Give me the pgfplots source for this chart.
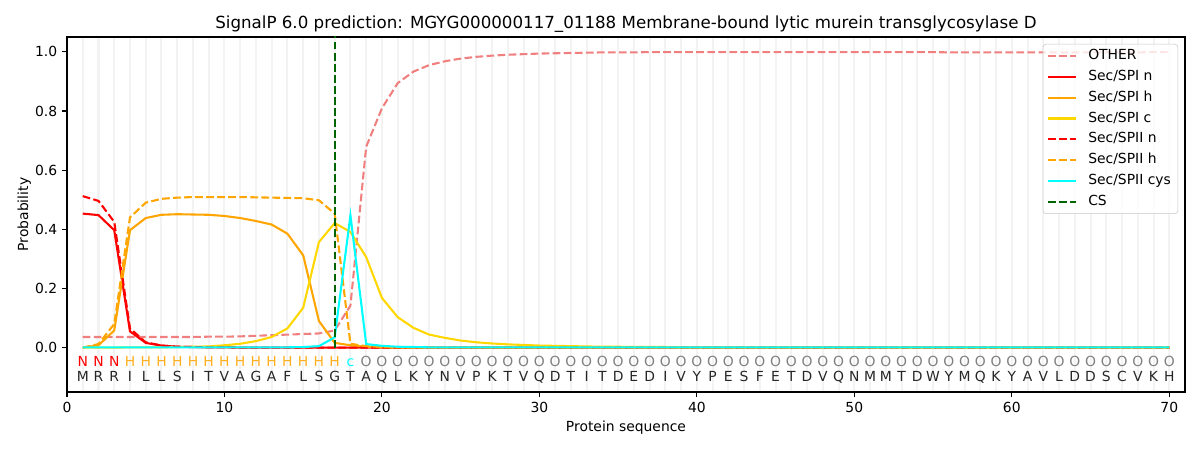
\documentclass[border=0pt]{standalone}
\usepackage{fontspec}
\setmainfont{DejaVu Sans}
\usepackage{pgfplots}
\usepackage{pgfplotstable}
\pgfplotsset{compat=1.18}
\definecolor{lightcoral}{HTML}{F08080}
\definecolor{mplorange}{HTML}{FFA500}
\definecolor{mplgold}{HTML}{FFD700}
\definecolor{darkgreen}{HTML}{006400}
\definecolor{mplcyan}{HTML}{00FFFF}
\definecolor{hlab}{HTML}{FFAE1F}
\definecolor{olab}{HTML}{808080}
\definecolor{gridc}{HTML}{F3F3F3}

\pgfplotstableread{
x other spin spih spic spiin spiih cys
1 0.036 0.453 0.000 0.000 0.512 0.000 0.001
2 0.036 0.448 0.008 0.000 0.496 0.012 0.001
3 0.036 0.397 0.058 0.000 0.425 0.080 0.001
4 0.036 0.055 0.397 0.001 0.065 0.440 0.001
5 0.036 0.016 0.438 0.001 0.018 0.490 0.001
6 0.036 0.007 0.449 0.001 0.007 0.503 0.001
7 0.036 0.003 0.451 0.002 0.003 0.507 0.001
8 0.036 0.002 0.450 0.003 0.002 0.509 0.001
9 0.037 0.001 0.449 0.004 0.001 0.509 0.001
10 0.037 0.001 0.445 0.008 0.001 0.509 0.001
11 0.038 0.000 0.438 0.013 0.000 0.509 0.001
12 0.040 0.000 0.428 0.022 0.000 0.508 0.001
13 0.042 0.000 0.416 0.036 0.000 0.507 0.001
14 0.044 0.000 0.385 0.065 0.000 0.506 0.001
15 0.046 0.000 0.312 0.135 0.000 0.505 0.002
16 0.048 0.000 0.090 0.357 0.000 0.498 0.005
17 0.058 0.000 0.016 0.421 0.000 0.453 0.035
18 0.142 0.000 0.008 0.391 0.000 0.013 0.447
19 0.679 0.000 0.003 0.306 0.000 0.005 0.012
20 0.809 0.000 0.001 0.168 0.000 0.002 0.006
21 0.894 0.000 0.000 0.103 0.000 0.001 0.003
22 0.933 0.000 0.000 0.067 0.000 0.000 0.002
23 0.955 0.000 0.000 0.044 0.000 0.000 0.001
24 0.968 0.000 0.000 0.033 0.000 0.000 0.001
25 0.977 0.000 0.000 0.024 0.000 0.000 0.001
26 0.983 0.000 0.000 0.018 0.000 0.000 0.001
27 0.987 0.000 0.000 0.014 0.000 0.000 0.001
28 0.990 0.000 0.000 0.011 0.000 0.000 0.001
29 0.992 0.000 0.000 0.009 0.000 0.000 0.001
30 0.994 0.000 0.000 0.007 0.000 0.000 0.001
31 0.995 0.000 0.000 0.006 0.000 0.000 0.001
32 0.996 0.000 0.000 0.005 0.000 0.000 0.001
33 0.997 0.000 0.000 0.004 0.000 0.000 0.001
34 0.998 0.000 0.000 0.003 0.000 0.000 0.001
35 0.998 0.000 0.000 0.003 0.000 0.000 0.001
36 0.998 0.000 0.000 0.002 0.000 0.000 0.001
37 0.999 0.000 0.000 0.002 0.000 0.000 0.001
38 0.999 0.000 0.000 0.002 0.000 0.000 0.001
39 0.999 0.000 0.000 0.001 0.000 0.000 0.001
40 0.999 0.000 0.000 0.001 0.000 0.000 0.001
41 0.999 0.000 0.000 0.001 0.000 0.000 0.001
42 0.999 0.000 0.000 0.001 0.000 0.000 0.001
43 0.999 0.000 0.000 0.001 0.000 0.000 0.001
44 0.999 0.000 0.000 0.001 0.000 0.000 0.001
45 0.999 0.000 0.000 0.001 0.000 0.000 0.001
46 0.999 0.000 0.000 0.001 0.000 0.000 0.001
47 0.999 0.000 0.000 0.001 0.000 0.000 0.001
48 0.999 0.000 0.000 0.001 0.000 0.000 0.001
49 0.999 0.000 0.000 0.001 0.000 0.000 0.001
50 0.999 0.000 0.000 0.001 0.000 0.000 0.001
51 0.999 0.000 0.000 0.000 0.000 0.000 0.001
52 0.999 0.000 0.000 0.000 0.000 0.000 0.001
53 0.999 0.000 0.000 0.000 0.000 0.000 0.001
54 0.999 0.000 0.000 0.000 0.000 0.000 0.001
55 0.999 0.000 0.000 0.000 0.000 0.000 0.001
56 0.998 0.000 0.000 0.000 0.000 0.000 0.001
57 0.998 0.000 0.000 0.000 0.000 0.000 0.001
58 0.998 0.000 0.000 0.000 0.000 0.000 0.001
59 0.998 0.000 0.000 0.000 0.000 0.000 0.001
60 0.998 0.000 0.000 0.000 0.000 0.000 0.001
61 0.998 0.000 0.000 0.000 0.000 0.000 0.001
62 0.998 0.000 0.000 0.000 0.000 0.000 0.001
63 0.998 0.000 0.000 0.000 0.000 0.000 0.001
64 0.998 0.000 0.000 0.000 0.000 0.000 0.001
65 0.998 0.000 0.000 0.000 0.000 0.000 0.001
66 0.998 0.000 0.000 0.000 0.000 0.000 0.001
67 0.998 0.000 0.000 0.000 0.000 0.000 0.001
68 0.998 0.000 0.000 0.000 0.000 0.000 0.001
69 0.999 0.000 0.000 0.000 0.000 0.000 0.001
70 0.999 0.000 0.000 0.000 0.000 0.000 0.001
}\probs

\pgfplotstableread{
x y l
1 -0.064 N
2 -0.064 N
3 -0.064 N
}\labN

\pgfplotstableread{
x y l
4 -0.064 H
5 -0.064 H
6 -0.064 H
7 -0.064 H
8 -0.064 H
9 -0.064 H
10 -0.064 H
11 -0.064 H
12 -0.064 H
13 -0.064 H
14 -0.064 H
15 -0.064 H
16 -0.064 H
17 -0.064 H
}\labH

\pgfplotstableread{
x y l
18 -0.064 c
}\labC

\pgfplotstableread{
x y l
19 -0.064 O
20 -0.064 O
21 -0.064 O
22 -0.064 O
23 -0.064 O
24 -0.064 O
25 -0.064 O
26 -0.064 O
27 -0.064 O
28 -0.064 O
29 -0.064 O
30 -0.064 O
31 -0.064 O
32 -0.064 O
33 -0.064 O
34 -0.064 O
35 -0.064 O
36 -0.064 O
37 -0.064 O
38 -0.064 O
39 -0.064 O
40 -0.064 O
41 -0.064 O
42 -0.064 O
43 -0.064 O
44 -0.064 O
45 -0.064 O
46 -0.064 O
47 -0.064 O
48 -0.064 O
49 -0.064 O
50 -0.064 O
51 -0.064 O
52 -0.064 O
53 -0.064 O
54 -0.064 O
55 -0.064 O
56 -0.064 O
57 -0.064 O
58 -0.064 O
59 -0.064 O
60 -0.064 O
61 -0.064 O
62 -0.064 O
63 -0.064 O
64 -0.064 O
65 -0.064 O
66 -0.064 O
67 -0.064 O
68 -0.064 O
69 -0.064 O
70 -0.064 O
}\labO

\pgfplotstableread{
x y l
1 -0.114 M
2 -0.114 R
3 -0.114 R
4 -0.114 I
5 -0.114 L
6 -0.114 L
7 -0.114 S
8 -0.114 I
9 -0.114 T
10 -0.114 V
11 -0.114 A
12 -0.114 G
13 -0.114 A
14 -0.114 F
15 -0.114 L
16 -0.114 S
17 -0.114 G
18 -0.114 T
19 -0.114 A
20 -0.114 Q
21 -0.114 L
22 -0.114 K
23 -0.114 Y
24 -0.114 N
25 -0.114 V
26 -0.114 P
27 -0.114 K
28 -0.114 T
29 -0.114 V
30 -0.114 Q
31 -0.114 D
32 -0.114 T
33 -0.114 I
34 -0.114 T
35 -0.114 D
36 -0.114 E
37 -0.114 D
38 -0.114 I
39 -0.114 V
40 -0.114 Y
41 -0.114 P
42 -0.114 E
43 -0.114 S
44 -0.114 F
45 -0.114 E
46 -0.114 T
47 -0.114 D
48 -0.114 V
49 -0.114 Q
50 -0.114 N
51 -0.114 M
52 -0.114 M
53 -0.114 T
54 -0.114 D
55 -0.114 W
56 -0.114 Y
57 -0.114 M
58 -0.114 Q
59 -0.114 K
60 -0.114 Y
61 -0.114 A
62 -0.114 V
63 -0.114 L
64 -0.114 D
65 -0.114 D
66 -0.114 S
67 -0.114 C
68 -0.114 V
69 -0.114 K
70 -0.114 H
}\labSeq

\begin{document}
\begin{tikzpicture}
\path[use as bounding box] (-48.24pt,-41.76pt) rectangle (815.76pt,282.24pt);
\begin{axis}[
  at={(0pt,0pt)}, anchor=south west,
  scale only axis, width=804.96pt, height=255.6pt,
  xmin=0, xmax=71, ymin=-0.15, ymax=1.05,
  xtick={0,10,20,30,40,50,60,70},
  ytick={0,0.2,0.4,0.6,0.8,1.0},
  minor xtick={1,2,...,70},
  minor tick length=0pt,
  xminorgrids=true,
  minor grid style={gridc, line width=1.45pt},
  tick align=outside, major tick length=3.5pt,
  tick pos=left,
  axis line style={black, line width=0.8pt},
  every tick/.style={black, line width=0.8pt},
  /pgf/number format/assume math mode=true,
  yticklabel style={/pgf/number format/.cd, fixed, fixed zerofill, precision=1},
  ticklabel style={font=\fontsize{10}{12}\selectfont},
  title={SignalP 6.0 prediction: MGYG000000117\_01188 Membrane-bound lytic murein transglycosylase D},
  title style={at={(axis description cs:0.5,1.0)}, anchor=base, font=\fontsize{12}{14}\selectfont},
  xlabel={Protein sequence},
  xlabel style={at={(axis description cs:0.5,-0.112)}, anchor=base, font=\fontsize{10}{12}\selectfont},
  ylabel={Probability},
  ylabel style={at={(axis description cs:-0.0348,0.5)}, anchor=base, rotate=0, font=\fontsize{10}{12}\selectfont},
  legend cell align=left,
  legend image code/.code={\draw[#1, line width=1.5pt] (0pt,0pt) -- (20pt,0pt); \path (26pt,0pt);},
  legend style={at={(axis description cs:1,1)}, anchor=north east, xshift=-5pt, yshift=-5pt,
    draw=black!22, rounded corners=2pt, fill=white, fill opacity=0.8, text opacity=1,
    font=\fontsize{10}{12}\selectfont, inner xsep=3pt, inner ysep=3.5pt, row sep=5pt,
    nodes={inner ysep=0pt, text height=7.6pt, text depth=2.4pt}},
]
\addplot[lightcoral, line width=1.5pt, dash pattern=on 5.55pt off 2.4pt] table[x=x, y=other] {\probs};
\addlegendentry{OTHER}
\addplot[red, line width=1.5pt] table[x=x, y=spin] {\probs};
\addlegendentry{Sec/SPI n}
\addplot[mplorange, line width=1.5pt] table[x=x, y=spih] {\probs};
\addlegendentry{Sec/SPI h}
\addplot[mplgold, line width=1.5pt] table[x=x, y=spic] {\probs};
\addlegendentry{Sec/SPI c}
\addplot[red, line width=1.5pt, dash pattern=on 5.55pt off 2.4pt] table[x=x, y=spiin] {\probs};
\addlegendentry{Sec/SPII n}
\addplot[mplorange, line width=1.5pt, dash pattern=on 5.55pt off 2.4pt] table[x=x, y=spiih] {\probs};
\addlegendentry{Sec/SPII h}
\addplot[mplcyan, line width=1.5pt] table[x=x, y=cys] {\probs};
\addlegendentry{Sec/SPII cys}
\addplot[darkgreen, line width=1.5pt, dash pattern=on 5.55pt off 2.4pt] coordinates {(17,0) (17,1.1)};
\addlegendentry{CS}

\addplot[draw=none, forget plot, point meta=explicit symbolic, nodes near coords,
  nodes near coords style={anchor=base, inner sep=0pt, text=red, font=\fontsize{10}{12}\selectfont}]
  table[x=x, y=y, meta=l] {\labN};
\addplot[draw=none, forget plot, point meta=explicit symbolic, nodes near coords,
  nodes near coords style={anchor=base, inner sep=0pt, text=hlab, font=\fontsize{10}{12}\selectfont}]
  table[x=x, y=y, meta=l] {\labH};
\addplot[draw=none, forget plot, point meta=explicit symbolic, nodes near coords,
  nodes near coords style={anchor=base, inner sep=0pt, text=mplcyan, font=\fontsize{10}{12}\selectfont}]
  table[x=x, y=y, meta=l] {\labC};
\addplot[draw=none, forget plot, point meta=explicit symbolic, nodes near coords,
  nodes near coords style={anchor=base, inner sep=0pt, text=olab, font=\fontsize{10}{12}\selectfont}]
  table[x=x, y=y, meta=l] {\labO};
\addplot[draw=none, forget plot, point meta=explicit symbolic, nodes near coords,
  nodes near coords style={anchor=base, inner sep=0pt, text=black!85, font=\fontsize{10}{12}\selectfont}]
  table[x=x, y=y, meta=l] {\labSeq};
\end{axis}
\end{tikzpicture}
\end{document}
